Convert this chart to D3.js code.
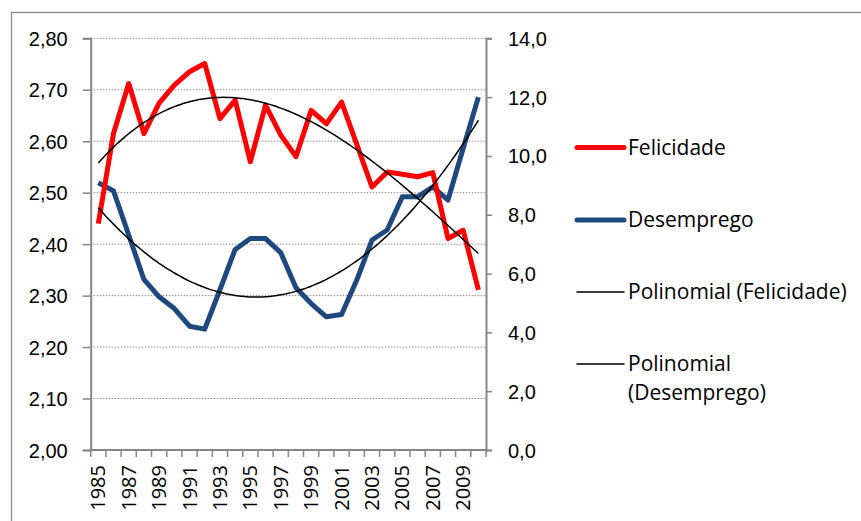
<!DOCTYPE html>
<html>
<head>
<meta charset="utf-8">
<script src="https://cdn.jsdelivr.net/npm/d3@7"></script>
<style>
  body { margin: 0; background: #fff; }
  svg { font-family: "Open Sans", Lato, sans-serif; }
  .axis text { font-size: 20px; fill: #000; }
  .legend text { font-size: 21px; fill: #000; }
</style>
</head>
<body>
<svg id="chart" width="861" height="521"></svg>
<script>
// ---- data ----
var years = d3.range(1985, 2011);
var felicidade = [2.440, 2.615, 2.712, 2.615, 2.674, 2.709, 2.735, 2.751, 2.644, 2.680,
                  2.560, 2.670, 2.612, 2.570, 2.660, 2.634, 2.676, 2.594, 2.511, 2.540,
                  2.536, 2.531, 2.539, 2.411, 2.427, 2.311];
var desemprego = [9.09, 8.81, 7.31, 5.80, 5.21, 4.81, 4.21, 4.11, 5.45, 6.82,
                  7.19, 7.19, 6.71, 5.52, 4.98, 4.53, 4.61, 5.78, 7.14, 7.48,
                  8.61, 8.61, 8.95, 8.50, 10.26, 12.0];
var leftTicks = [2.0, 2.1, 2.2, 2.3, 2.4, 2.5, 2.6, 2.7, 2.8];
var rightTicks = [0, 2, 4, 6, 8, 10, 12, 14];
var yearLabels = years.filter((y, i) => i % 2 === 0);
var orderF = 3, orderD = 2;

// ---- layout ----
var svg = d3.select("#chart");
var plotLeft = 90.7, plotRight = 486, plotTop = 38.3, plotBottom = 450;
var fmtL = d3.format(".2f"), fmtR = d3.format(".1f");
var comma = s => s.replace(".", ",");

var x = d3.scaleBand().domain(years).range([plotLeft, plotRight]);
var yL = d3.scaleLinear().domain([2.0, 2.8]).range([plotBottom, plotTop]);
var yR = d3.scaleLinear().domain([0, 14]).range([plotBottom, plotTop]);
var cx = d => x(d) + x.bandwidth() / 2;

// outer frame (cut off at right/bottom)
svg.append("rect")
  .attr("x", 11.5).attr("y", 12.5)
  .attr("width", 870).attr("height", 540)
  .attr("fill", "none").attr("stroke", "#8c8c8c").attr("stroke-width", 1.3);

// grid
svg.append("g").selectAll("line")
  .data(leftTicks.slice(1))
  .enter().append("line")
    .attr("x1", plotLeft).attr("x2", plotRight)
    .attr("y1", d => yL(d)).attr("y2", d => yL(d))
    .attr("stroke", "#8c8c8c").attr("stroke-width", 1)
    .attr("stroke-dasharray", "1.5,1.5");

// left axis
var axL = svg.append("g").attr("class", "axis")
  .attr("transform", "translate(" + plotLeft + ",0)")
  .call(d3.axisLeft(yL).tickValues(leftTicks).tickSize(8).tickPadding(15)
    .tickFormat(d => comma(fmtL(d))));

// right axis
var axR = svg.append("g").attr("class", "axis")
  .attr("transform", "translate(" + plotRight + ",0)")
  .call(d3.axisRight(yR).tickValues(rightTicks).tickSize(6).tickPadding(16)
    .tickFormat(d => comma(fmtR(d))));

// x axis, ticks at category boundaries
var axX = svg.append("g").attr("class", "axis")
  .attr("transform", "translate(0," + plotBottom + ")");
axX.append("line").attr("x1", plotLeft).attr("x2", plotRight)
  .attr("stroke", "#868686").attr("stroke-width", 2);
axX.selectAll(".tk").data(years.concat([2011]))
  .enter().append("line").attr("class", "tk")
    .attr("x1", (d, i) => plotLeft + i * x.bandwidth())
    .attr("x2", (d, i) => plotLeft + i * x.bandwidth())
    .attr("y1", 0).attr("y2", 7)
    .attr("stroke", "#868686").attr("stroke-width", 1.5);
axX.selectAll(".yl").data(yearLabels)
  .enter().append("text").attr("class", "yl")
    .attr("transform", d => "translate(" + (cx(d) + 7) + ",15) rotate(-90)")
    .attr("text-anchor", "end")
    .text(d => d);

[axL, axR].forEach(function(ax) {
  ax.select(".domain").attr("stroke", "#868686").attr("stroke-width", 2);
  ax.selectAll(".tick line").attr("stroke", "#868686").attr("stroke-width", 1.5);
  ax.selectAll(".tick text").attr("dy", "0.35em");
});

// series
var lineL = d3.line().x((d, i) => cx(years[i])).y(d => yL(d));
var lineR = d3.line().x((d, i) => cx(years[i])).y(d => yR(d));

svg.append("path").datum(desemprego)
  .attr("d", lineR).attr("fill", "none")
  .attr("stroke", "#1F497D").attr("stroke-width", 5).attr("stroke-linejoin", "round");

svg.append("path").datum(felicidade)
  .attr("d", lineL).attr("fill", "none")
  .attr("stroke", "#FF0000").attr("stroke-width", 5).attr("stroke-linejoin", "round");

// least squares polynomial fit
function polyFit(ys, order) {
  var n = order + 1;
  var A = [], b = [];
  for (var r = 0; r < n; r++) {
    A.push([]);
    for (var c = 0; c < n; c++)
      A[r].push(d3.sum(ys, (v, i) => Math.pow(i + 1, r + c)));
    b.push(d3.sum(ys, (v, i) => v * Math.pow(i + 1, r)));
  }
  for (var k = 0; k < n; k++) {
    for (var r2 = k + 1; r2 < n; r2++) {
      var f = A[r2][k] / A[k][k];
      for (var c2 = k; c2 < n; c2++) A[r2][c2] -= f * A[k][c2];
      b[r2] -= f * b[k];
    }
  }
  var coef = new Array(n).fill(0);
  for (var k2 = n - 1; k2 >= 0; k2--) {
    var s = b[k2];
    for (var j = k2 + 1; j < n; j++) s -= A[k2][j] * coef[j];
    coef[k2] = s / A[k2][k2];
  }
  return t => coef.reduce((acc, cf, p) => acc + cf * Math.pow(t, p), 0);
}

var fitF = polyFit(felicidade, orderF);
var fitD = polyFit(desemprego, orderD);
var steps = d3.range(1, 26.01, 0.25);
var trend = d3.line()
  .x(t => cx(years[0]) + (t - 1) * x.bandwidth())
  .curve(d3.curveMonotoneX);

svg.append("path").datum(steps)
  .attr("d", trend.y(t => yL(fitF(t)))).attr("fill", "none")
  .attr("stroke", "#000").attr("stroke-width", 1.5);
svg.append("path").datum(steps)
  .attr("d", trend.y(t => yR(fitD(t)))).attr("fill", "none")
  .attr("stroke", "#000").attr("stroke-width", 1.5);

// legend
var legendItems = [
  {label: ["Felicidade"], color: "#FF0000", w: 5, y: 147.5},
  {label: ["Desemprego"], color: "#1F497D", w: 5, y: 220},
  {label: ["Polinomial (Felicidade)"], color: "#000", w: 1.5, y: 292},
  {label: ["Polinomial", "(Desemprego)"], color: "#000", w: 1.5, y: 364}
];
var lg = svg.append("g").attr("class", "legend");
var item = lg.selectAll("g").data(legendItems).enter().append("g")
  .attr("transform", d => "translate(0," + d.y + ")");
item.append("line")
  .attr("x1", 577).attr("x2", 624)
  .attr("stroke", d => d.color).attr("stroke-width", d => d.w)
  .attr("stroke-linecap", "round");
item.append("text")
  .attr("x", 628)
  .selectAll("tspan").data(d => d.label).enter().append("tspan")
    .attr("x", 628).attr("dy", (d, i) => i === 0 ? "0.35em" : "29px")
    .text(d => d);
</script>
</body>
</html>
